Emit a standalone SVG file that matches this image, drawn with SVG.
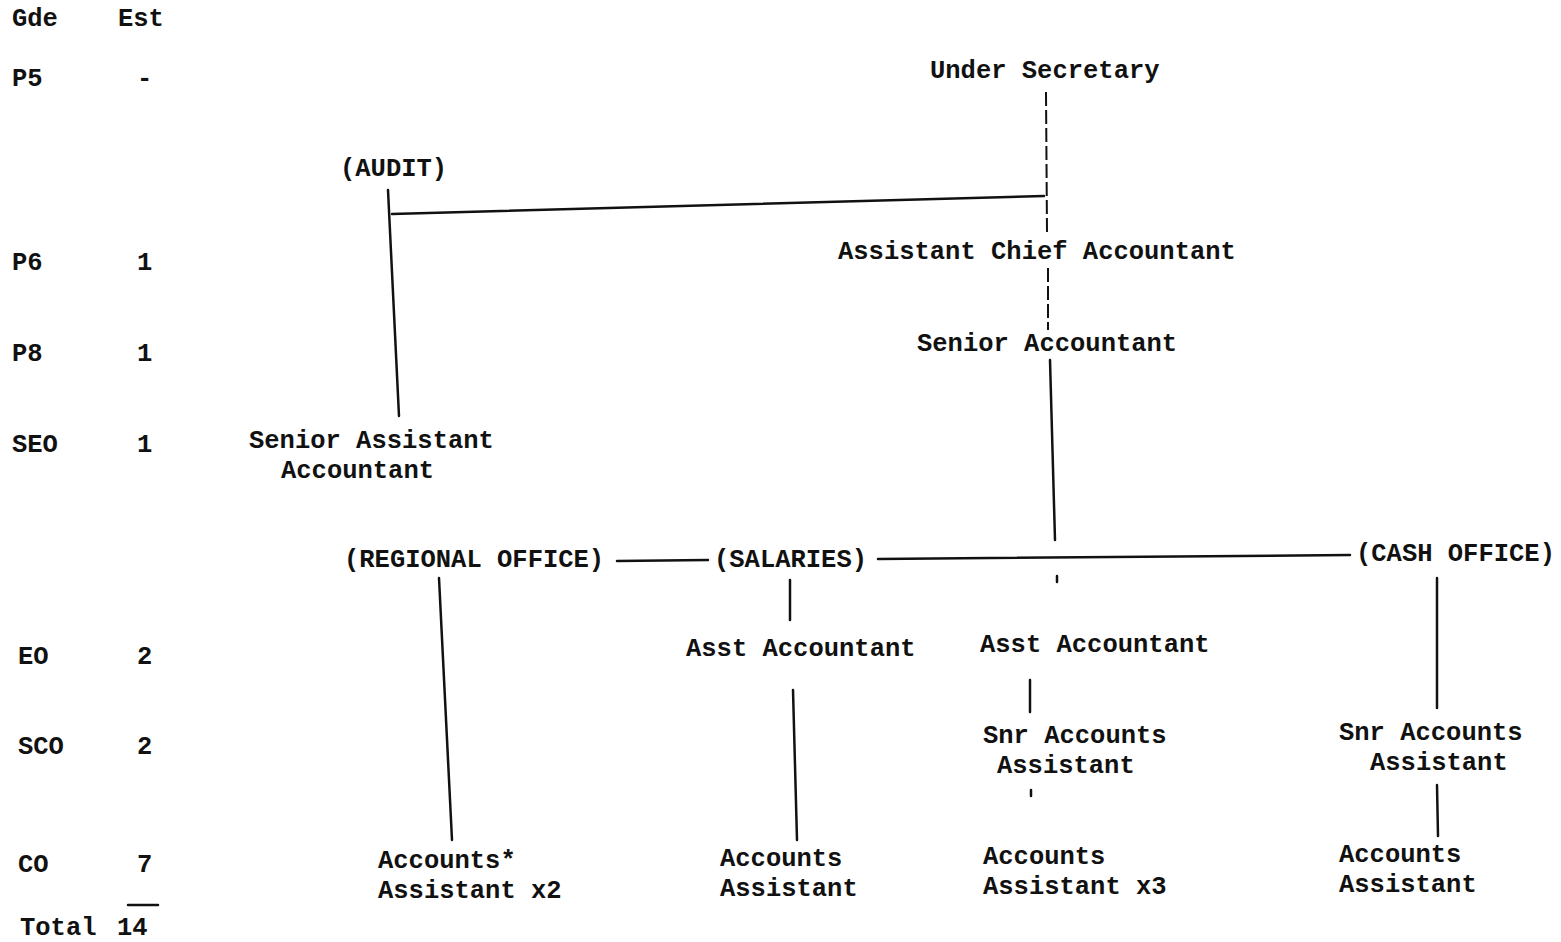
<svg xmlns="http://www.w3.org/2000/svg" width="1561" height="942" viewBox="0 0 1561 942">
<style>
text{font-family:"Liberation Mono","Courier New",monospace;font-size:25.5px;font-weight:bold;fill:#111}
.c{stroke:#111;stroke-width:2.5;fill:none;stroke-linecap:round}
.d{stroke:#111;stroke-width:2;fill:none;stroke-dasharray:14 4}
</style>
<rect width="1561" height="942" fill="#fff"/>
<g id="grades">
<text x="12" y="26">Gde</text><text x="118" y="26">Est</text>
<text x="12" y="86">P5</text><text x="137" y="86">-</text>
<text x="12" y="270">P6</text><text x="137" y="270">1</text>
<text x="12" y="361">P8</text><text x="137" y="361">1</text>
<text x="12" y="452">SEO</text><text x="137" y="452">1</text>
<text x="18" y="664">EO</text><text x="137" y="664">2</text>
<text x="18" y="754">SCO</text><text x="137" y="754">2</text>
<text x="18" y="872">CO</text><text x="137" y="872">7</text>
<text x="20" y="935">Total</text><text x="117" y="935">14</text>
<line class="c" x1="128" y1="905" x2="158" y2="905"/>
</g>
<g id="connectors">
<line class="d" x1="1046" y1="92" x2="1047" y2="232"/>
<line class="d" x1="1048" y1="268" x2="1048" y2="330"/>
<line class="c" x1="1050" y1="360" x2="1055" y2="540"/>
<line class="c" x1="1057" y1="576" x2="1057" y2="582"/>
<line class="c" x1="392" y1="214" x2="1044" y2="196"/>
<line class="c" x1="388" y1="190" x2="399" y2="416"/>
<line class="c" x1="617" y1="561" x2="708" y2="560"/>
<line class="c" x1="878" y1="559" x2="1350" y2="555"/>
<line class="c" x1="439" y1="578" x2="452" y2="840"/>
<line class="c" x1="790" y1="580" x2="790" y2="620"/>
<line class="c" x1="793" y1="690" x2="797" y2="840"/>
<line class="c" x1="1030" y1="680" x2="1030" y2="712"/>
<line class="c" x1="1031" y1="790" x2="1031" y2="796"/>
<line class="c" x1="1437" y1="578" x2="1437" y2="708"/>
<line class="c" x1="1437" y1="785" x2="1438" y2="836"/>
</g>
<g id="under-secretary"><text x="930" y="78">Under Secretary</text></g>
<g id="audit"><text x="340" y="176">(AUDIT)</text></g>
<g id="assistant-chief-accountant"><text x="838" y="259">Assistant Chief Accountant</text></g>
<g id="senior-accountant"><text x="917" y="351">Senior Accountant</text></g>
<g id="senior-assistant-accountant"><text x="249" y="448">Senior Assistant</text><text x="281" y="478">Accountant</text></g>
<g id="regional-office"><text x="344" y="567">(REGIONAL OFFICE)</text></g>
<g id="salaries"><text x="714" y="567">(SALARIES)</text></g>
<g id="cash-office"><text x="1356" y="561">(CASH OFFICE)</text></g>
<g id="asst-accountant-salaries"><text x="686" y="656">Asst Accountant</text></g>
<g id="asst-accountant-main"><text x="980" y="652">Asst Accountant</text></g>
<g id="snr-accounts-assistant-main"><text x="983" y="743">Snr Accounts</text><text x="997" y="773">Assistant</text></g>
<g id="snr-accounts-assistant-cash"><text x="1339" y="740">Snr Accounts</text><text x="1370" y="770">Assistant</text></g>
<g id="accounts-assistant-regional"><text x="378" y="868">Accounts*</text><text x="378" y="898">Assistant x2</text></g>
<g id="accounts-assistant-salaries"><text x="720" y="866">Accounts</text><text x="720" y="896">Assistant</text></g>
<g id="accounts-assistant-main"><text x="983" y="864">Accounts</text><text x="983" y="894">Assistant x3</text></g>
<g id="accounts-assistant-cash"><text x="1339" y="862">Accounts</text><text x="1339" y="892">Assistant</text></g>
</svg>
